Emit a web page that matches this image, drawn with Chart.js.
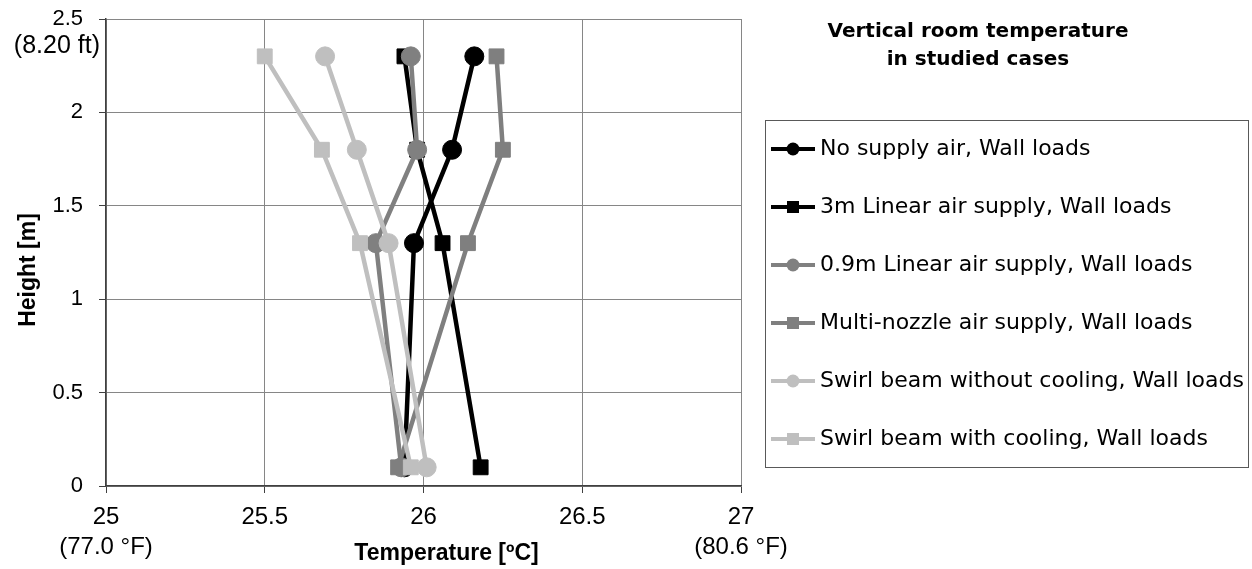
<!DOCTYPE html>
<html lang="en">
<head>
<meta charset="utf-8">
<title>Vertical room temperature in studied cases</title>
<script src="https://cdn.jsdelivr.net/npm/chart.js@4.4.1/dist/chart.umd.min.js"></script>
<style>
  html, body { margin: 0; padding: 0; background: #fff; }
  #grafico { display: block; }
</style>
</head>
<body>
<canvas id="grafico" width="1252" height="569"></canvas>
<script>
// =================== DATOS ===================
const alturas = [2.3, 1.8, 1.3, 0.1]; // Height [m]

// Temperature [ºC] en cada altura
const noSupply     = [26.16, 26.09, 25.97, 25.94];
const linear3m     = [25.94, 25.98, 26.06, 26.18];
const linear09m    = [25.96, 25.98, 25.85, 25.93];
const multiNozzle  = [26.23, 26.25, 26.14, 25.92];
const swirlNoCool  = [25.69, 25.79, 25.89, 26.01];
const swirlCool    = [25.50, 25.68, 25.80, 25.96];

const nombresSeries = [
  'No supply air, Wall loads',
  '3m Linear air supply, Wall loads',
  '0.9m Linear air supply, Wall loads',
  'Multi-nozzle air supply, Wall loads',
  'Swirl beam without cooling, Wall loads',
  'Swirl beam with cooling, Wall loads'
];

const xTicks = [25, 25.5, 26, 26.5, 27];
const xTickLabels = [['25', '(77.0 °F)'], '25.5', '26', '26.5', ['27', '(80.6 °F)']];
const yTicks = [0, 0.5, 1, 1.5, 2, 2.5];
const yTickLabels = ['0', '0.5', '1', '1.5', '2', '2.5'];
const yNotaSuperior = '(8.20 ft)';

const tituloLineas = ['Vertical room temperature', 'in studied cases'];
const tituloX = 'Temperature [ºC]';
const tituloY = 'Height [m]';

// =================== ESTILOS ===================
const estilos = [
  { color: '#000000', punto: 'circle' },
  { color: '#000000', punto: 'rect' },
  { color: '#808080', punto: 'circle' },
  { color: '#7f7f7f', punto: 'rect' },
  { color: '#bfbfbf', punto: 'circle' },
  { color: '#bfbfbf', punto: 'rect' }
];

/** Icono de leyenda: línea con el marcador en el centro */
function iconoLeyenda(color, punto) {
  const c = document.createElement('canvas');
  c.width = 44;
  c.height = 22;
  const g = c.getContext('2d');
  g.strokeStyle = color;
  g.fillStyle = color;
  g.lineWidth = 4;
  g.beginPath();
  g.moveTo(0, 11);
  g.lineTo(44, 11);
  g.stroke();
  if (punto === 'circle') {
    g.beginPath();
    g.arc(22, 11, 6.5, 0, Math.PI * 2);
    g.fill();
  } else {
    g.fillRect(16, 5, 12, 12);
  }
  return c;
}
const iconos = estilos.map(e => iconoLeyenda(e.color, e.punto));

// =================== TEXTOS EXTRA Y MARCO DE LEYENDA ===================
const textosExtra = {
  id: 'textosExtra',
  afterDraw(chart) {
    const { ctx, chartArea, legend, scales } = chart;
    ctx.save();
    ctx.fillStyle = '#000';
    ctx.textBaseline = 'middle';

    // título a la derecha, encima de la leyenda
    ctx.textAlign = 'center';
    ctx.font = 'bold 20px "DejaVu Sans"';
    tituloLineas.forEach((t, i) => ctx.fillText(t, 978, 31.5 + i * 28));

    // nota bajo la etiqueta 2.5
    ctx.textAlign = 'right';
    ctx.font = '25px "Liberation Sans"';
    ctx.fillText(yNotaSuperior, chartArea.left - 6, scales.y.getPixelForValue(2.5) + 27);

    // títulos de ejes
    ctx.textAlign = 'center';
    ctx.font = 'bold 23px "Liberation Sans"';
    ctx.fillText(tituloX, chartArea.left + 340.5, chartArea.bottom + 68);
    ctx.save();
    ctx.translate(28.5, chartArea.top + 251);
    ctx.rotate(-Math.PI / 2);
    ctx.fillText(tituloY, 0, 0);
    ctx.restore();

    // marco de la leyenda
    const cajas = legend.legendHitBoxes;
    if (cajas && cajas.length) {
      const primera = cajas[0];
      const ultima = cajas[cajas.length - 1];
      const arriba = Math.round(primera.top + primera.height / 2 - 29) + 0.5;
      const abajo = Math.round(ultima.top + ultima.height / 2 + 28) + 0.5;
      const izq = Math.round(legend.left + 24) + 0.5;
      const der = Math.round(legend.right - 4) + 0.5;
      ctx.strokeStyle = '#595959';
      ctx.lineWidth = 1;
      ctx.strokeRect(izq, arriba, der - izq, abajo - arriba);
    }
    ctx.restore();
  }
};

// =================== GRÁFICO ===================
const series = [noSupply, linear3m, linear09m, multiNozzle, swirlNoCool, swirlCool];

const datasets = series.map((temps, i) => ({
  label: nombresSeries[i],
  data: temps.map((t, j) => ({ x: t, y: alturas[j] })),
  showLine: true,
  borderColor: estilos[i].color,
  backgroundColor: estilos[i].color,
  borderWidth: 4.5,
  tension: 0,
  pointStyle: estilos[i].punto,
  pointRadius: estilos[i].punto === 'circle' ? 9.5 : 10.5,
  pointHoverRadius: estilos[i].punto === 'circle' ? 9.5 : 10.5,
  pointBorderWidth: 1,
  pointBorderColor: estilos[i].color,
  pointBackgroundColor: estilos[i].color,
  order: series.length - i // las últimas series quedan encima, como en el original
}));

Chart.defaults.font.family = '"Liberation Sans", Arial, sans-serif';
Chart.defaults.color = '#000';

new Chart(document.getElementById('grafico'), {
  type: 'scatter',
  data: { datasets },
  options: {
    responsive: false,
    animation: false,
    devicePixelRatio: 1,
    layout: { padding: { top: 19, left: 0, right: 0, bottom: 0 } },
    plugins: {
      tooltip: { enabled: false },
      legend: {
        position: 'right',
        align: 'center',
        maxWidth: 511,
        labels: {
          usePointStyle: true,
          pointStyleWidth: 32,
          padding: 36,
          color: '#000',
          font: { family: '"DejaVu Sans"', size: 22 },
          sort: (a, b) => a.datasetIndex - b.datasetIndex,
          generateLabels: chart =>
            Chart.defaults.plugins.legend.labels.generateLabels(chart)
              .map(item => ({ ...item, pointStyle: iconos[item.datasetIndex] }))
        }
      }
    },
    scales: {
      x: {
        type: 'linear',
        min: 25,
        max: 27,
        ticks: {
          stepSize: 0.5,
          padding: 9,
          maxRotation: 0,
          autoSkip: false,
          color: '#000',
          font: { size: 24, lineHeight: 1.25 },
          callback: v => {
            const i = xTicks.indexOf(v);
            return i >= 0 ? xTickLabels[i] : '';
          }
        },
        grid: { color: '#868686', lineWidth: 1, tickLength: 7, tickColor: '#404040' },
        border: { color: '#404040', width: 1.5 },
        afterFit: s => { s.height = 83; s.paddingLeft = 0; s.paddingRight = 0; }
      },
      y: {
        type: 'linear',
        min: 0,
        max: 2.5,
        ticks: {
          stepSize: 0.5,
          padding: 16,
          color: '#000',
          font: { size: 22 },
          callback: v => {
            const i = yTicks.indexOf(v);
            return i >= 0 ? yTickLabels[i] : '';
          }
        },
        grid: { color: '#868686', lineWidth: 1, tickLength: 7, tickColor: '#404040' },
        border: { color: '#404040', width: 1.5 },
        afterFit: s => { s.width = 106; s.paddingTop = 0; s.paddingBottom = 0; }
      }
    }
  },
  plugins: [textosExtra]
});
</script>
</body>
</html>
